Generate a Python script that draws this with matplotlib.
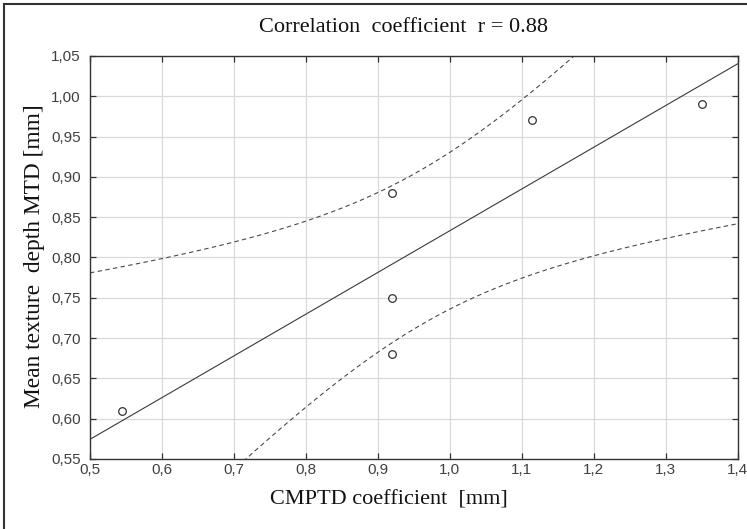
import numpy as np
import matplotlib
matplotlib.use('Agg')
import matplotlib.pyplot as plt
from matplotlib.ticker import FuncFormatter

# Data
cmptd = [0.545, 0.92, 0.92, 0.92, 1.115, 1.35]
mtd = [0.61, 0.88, 0.75, 0.68, 0.97, 0.99]
x_ticks = [0.5, 0.6, 0.7, 0.8, 0.9, 1.0, 1.1, 1.2, 1.3, 1.4]
y_ticks = [0.55, 0.60, 0.65, 0.70, 0.75, 0.80, 0.85, 0.90, 0.95, 1.00, 1.05]
t_crit = 2.776  # t(0.975, n-2) for n = 6

x = np.array(cmptd)
y = np.array(mtd)
n = len(x)

# linear fit and 95% confidence band of the mean
slope, intercept = np.polyfit(x, y, 1)
r = np.corrcoef(x, y)[0, 1]
resid = y - (slope * x + intercept)
s = np.sqrt(np.sum(resid ** 2) / (n - 2))
sxx = np.sum((x - x.mean()) ** 2)
xs = np.linspace(x_ticks[0], x_ticks[-1], 200)
fit = slope * xs + intercept
half = t_crit * s * np.sqrt(1.0 / n + (xs - x.mean()) ** 2 / sxx)

fig = plt.figure(figsize=(7.47, 5.29), dpi=100)
ax = fig.add_axes([90 / 747, 1 - 459 / 529, 647.5 / 747, 403 / 529])

ax.plot(xs, fit, color='#3a3a3a', lw=0.8)
ax.plot(xs, fit + half, color='#4a4a4a', lw=0.8, ls=(0, (4, 3)))
ax.plot(xs, fit - half, color='#4a4a4a', lw=0.8, ls=(0, (4, 3)))
ax.plot(x, y, 'o', ms=5.5, mfc='none', mec='#333333', mew=0.9)

ax.set_xlim(x_ticks[0], x_ticks[-1])
ax.set_ylim(y_ticks[0], y_ticks[-1])
ax.set_xticks(x_ticks)
ax.set_yticks(y_ticks)
ax.xaxis.set_major_formatter(FuncFormatter(lambda v, p: f"{v:.1f}".replace('.', ',')))
ax.yaxis.set_major_formatter(FuncFormatter(lambda v, p: f"{v:.2f}".replace('.', ',')))
ax.grid(True, color='#d9d9d9', lw=0.9)
ax.set_axisbelow(True)
ax.tick_params(direction='in', length=4, width=0.9, color='#333333',
               top=True, right=True, labelsize=11, labelcolor='#404040')
ax.tick_params(axis='x', pad=3)
ax.tick_params(axis='y', pad=6.5)
for lbl in ax.get_xticklabels() + ax.get_yticklabels():
    lbl.set_family('Liberation Sans')
for sp in ax.spines.values():
    sp.set_color('#333333')
    sp.set_linewidth(1.0)

serif = 'Liberation Serif'
fig.text(404 / 747, 1 - 28 / 529, f"Correlation  coefficient  r = {r:.2f}",
         ha='center', va='center', family=serif, fontsize=16, color='#111111')
fig.text(389 / 747, 1 - 500 / 529, "CMPTD coefficient  [mm]",
         ha='center', va='center', family=serif, fontsize=16, color='#111111')
fig.text(35 / 747, 1 - 256 / 529, "Mean texture  depth MTD [mm]", rotation=90,
         ha='center', va='center', family=serif, fontsize=16.8, color='#111111')

# outer frame (top and left edges visible)
fig.add_artist(plt.Line2D([4 / 747, 4 / 747], [0, 1 - 4 / 529],
                          transform=fig.transFigure, color='#333333', lw=1.5))
fig.add_artist(plt.Line2D([4 / 747, 1], [1 - 4 / 529, 1 - 4 / 529],
                          transform=fig.transFigure, color='#333333', lw=1.5))

fig.savefig('out.png', dpi=100)
